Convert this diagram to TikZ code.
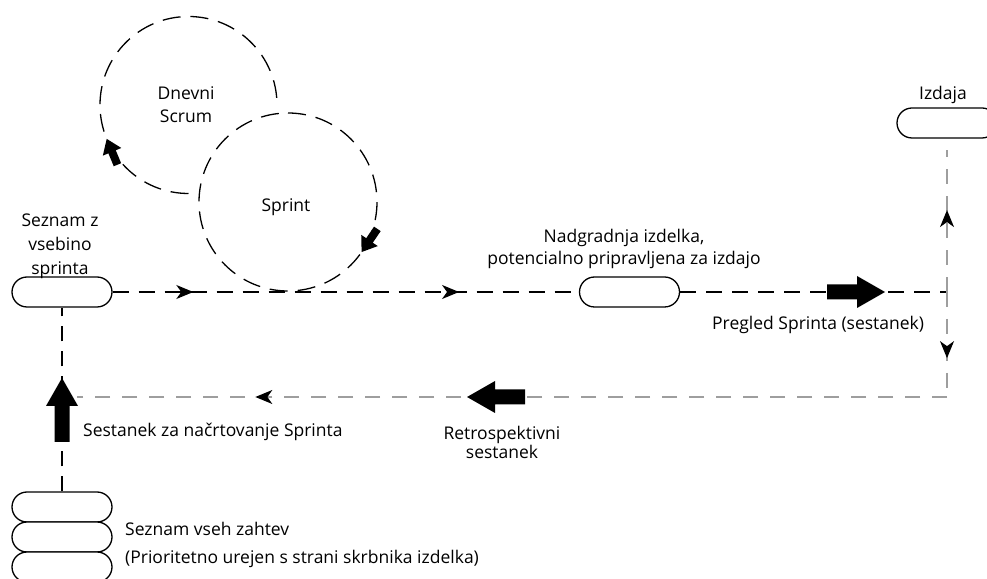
\documentclass[tikz,border=0pt]{standalone}
\usepackage{fontspec}
\setmainfont{Open Sans}
\usetikzlibrary{arrows.meta,decorations.markings}
\begin{document}
\begin{tikzpicture}[x=1pt,y=1pt,
  lbl/.style={inner sep=0pt, font=\fontsize{17.5}{23}\selectfont},
  pill/.style={draw, line width=1.3pt, rounded corners=15pt, minimum width=100pt, minimum height=30pt, inner sep=0pt, fill=white},
  blk/.style={line width=1.3pt, dash pattern=on 16pt off 10pt},
  gry/.style={line width=1.2pt, color=black!38, dash pattern=on 15pt off 12pt},
  circ/.style={line width=1.3pt, dash pattern=on 18pt off 10pt},
  tipat/.style={postaction={decorate, decoration={markings, mark=at position #1 with {\arrow[black,solid]{Stealth[length=17pt,width=14pt,inset=5pt]}}}}},
  fatat/.style={postaction={decorate, decoration={markings, mark=at position #1 with {\fill[black,solid] (0,0)--(-14,10)--(-14,4)--(-28,4)--(-28,-4)--(-14,-4)--(-14,-10)--cycle;}}}},
  pics/fatarr/.style={code={\fill[black] (0,-7.5)--({#1-28},-7.5)--({#1-28},-16)--(#1,0)--({#1-28},16)--({#1-28},7.5)--(0,7.5)--cycle;}}
]
\useasboundingbox (0,0) rectangle (987,578);
\fill[white] (0,0) rectangle (987,578);

% circles
\coordinate (c1) at (188.5,473);
\coordinate (c2) at (288,376);
\draw[circ, fatat=0.25] (c1) ++(270:88.5) arc[start angle=270, end angle=0, radius=88.5];
\draw[circ, fatat=0.345] (c2) ++(90:89) arc[start angle=90, end angle=-270, radius=89];

% pills
\node[pill] (sb) at (62,286) {};
\node[pill] (nb) at (629.5,286) {};
\node[pill] (iz) at (947,455) {};
\node[pill] (s1) at (62,71) {};
\node[pill] (s2) at (62,41) {};
\node[pill] (s3) at (62,11) {};

% helper points
\coordinate (cR) at (947,286);
\coordinate (cB) at (947,181);
\coordinate (cL) at (77,181);
\coordinate (cT) at (947,428);

% connectors
\draw[blk, tipat=0.173, tipat=0.743] (sb.east) -- (nb.west);
\draw[blk] (nb.east) -- (cR);
\draw[gry, tipat=0.577] (cR) -- (cT);
\draw[gry, tipat=0.63] (cR) -- (cB);
\draw[gry, tipat=0.795] (cB) -- (cL);
\draw[blk, dash pattern=on 15pt off 10pt] (s1.north) -- (sb.south);

% big arrows
\pic at (827,286) {fatarr=58};
\pic[rotate=180] at (525,181) {fatarr=58};
\pic[rotate=90] at (62,136) {fatarr=64};

% labels
\node[lbl, align=center, anchor=north] (tDS) at (186,492) {Dnevni\\Scrum};
\node[lbl, anchor=base] (tSp) at (286,366) {Sprint};
\node[lbl, align=center, anchor=north, font=\fontsize{17.5}{24}\selectfont] (tSz) at (60,364) {Seznam z\\vsebino\\sprinta};
\node[lbl, align=center, anchor=north, font=\fontsize{17.5}{22}\selectfont] (tNd) at (624,349) {Nadgradnja izdelka,\\potencialno pripravljena za izdajo};
\node[lbl, anchor=base west] (tPr) at (712,248) {Pregled Sprinta (sestanek)};
\node[lbl, anchor=base] (tIz) at (943,478) {Izdaja};
\node[lbl, anchor=base west] (tSe) at (83,141) {Sestanek za načrtovanje Sprinta};
\node[lbl, align=center, anchor=north, font=\fontsize{17.5}{19.5}\selectfont] (tRe) at (502,152) {Retrospektivni\\sestanek};
\node[lbl, anchor=base west] (tSv) at (125,43) {Seznam vseh zahtev};
\node[lbl, anchor=base west] (tPu) at (125,15) {(Prioritetno urejen s strani skrbnika izdelka)};
\end{tikzpicture}
\end{document}
